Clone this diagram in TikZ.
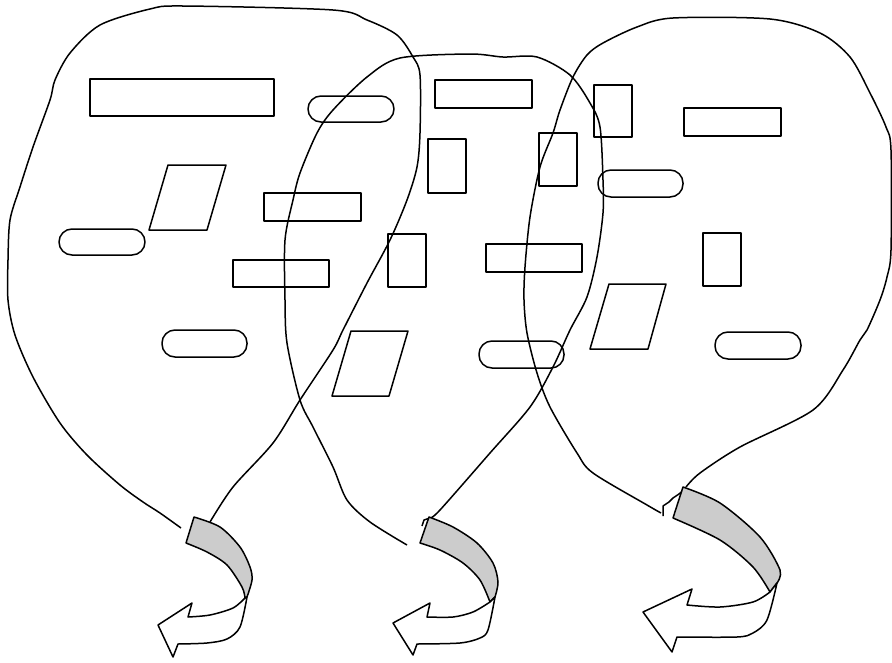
\documentclass[tikz,border=0pt]{standalone}
\begin{document}
\begin{tikzpicture}[x=1pt,y=-1pt,line join=round,
  box/.style={draw,line width=1.5pt,rectangle,inner sep=0pt},
  pill/.style={box,rounded corners=13pt},
  outline/.style={line width=1.5pt},
  back/.style={draw,line width=1.5pt,fill=black!20},
  front/.style={draw,line width=1.5pt,fill=white}]
\useasboundingbox (0,0) rectangle (892,662);

% balloons
\draw[outline] plot[smooth,tension=0.5] coordinates {(181,528) (160,513) (143,502) (120,485) (87,455) (60,423) (33,377) (15,335) (8,300) (8,260) (10,220) (20,187) (33,147) (50,100) (55,80) (70,53) (100,25) (150,9) (183,6) (333,10) (367,20) (397,35) (413,57) (420,75) (420,133) (417,167) (407,200) (390,240) (367,283) (343,330) (333,350) (300,400) (273,443) (233,487) (210,522)};
\draw[outline] plot[smooth,tension=0.5] coordinates {(407,545) (370,522) (347,500) (333,467) (313,427) (300,400) (287,343) (285,300) (285,240) (293,200) (300,173) (317,133) (333,110) (367,77) (400,58) (470,54) (503,57) (537,57) (570,75) (590,103) (600,127) (603,180) (603,213) (597,257) (587,297) (570,330) (553,367) (530,407) (490,453) (440,510) (430,518)};
\draw[outline] (430,518) -- (424,520) -- (422,526);
\draw[outline] plot[smooth,tension=0.5] coordinates {(661,513) (647,505) (593,473) (577,453) (550,407) (537,373) (527,333) (524,300) (525,267) (530,217) (540,167) (553,133) (560,110) (573,77) (587,55) (603,43) (637,27) (673,18) (770,19) (820,33) (850,57) (870,93) (886,127) (891,150) (891,250) (887,277) (880,300) (867,330) (860,340) (843,370) (813,410) (740,447) (700,473) (686,487)};
\draw[outline] (663,516) -- (663,506) -- (669,502) -- (673,498) -- (679,494) -- (685,489);

% left balloon contents
\node[box,minimum width=184pt,minimum height=37pt] (r1) at (182,97.5) {};
\node[pill,minimum width=86pt,minimum height=26pt] (s1) at (351,109) {};
\draw[line width=1.5pt] (168,165) -- (226,165) -- (207,230) -- (149,230) -- cycle;
\node[pill,minimum width=86pt,minimum height=26pt] (s2) at (102,242) {};
\node[box,minimum width=97pt,minimum height=28pt] (r2) at (312.5,207) {};
\node[box,minimum width=96pt,minimum height=27pt] (r3) at (281,273.5) {};
\node[pill,minimum width=85pt,minimum height=27pt] (s3) at (204.5,343.5) {};

% middle balloon contents
\node[box,minimum width=38pt,minimum height=53pt] (r4) at (407,260.5) {};
\draw[line width=1.5pt] (351,331) -- (408,331) -- (389,396) -- (332,396) -- cycle;
\node[box,minimum width=97pt,minimum height=28pt] (r5) at (483.5,94) {};
\node[box,minimum width=38pt,minimum height=54pt] (r6) at (447,166) {};
\node[box,minimum width=38pt,minimum height=53pt] (r7) at (558,159.5) {};
\node[box,minimum width=96pt,minimum height=28pt] (r8) at (534,258) {};
\node[pill,minimum width=85pt,minimum height=27pt] (s5) at (521.5,354.5) {};

% right balloon contents
\node[box,minimum width=38pt,minimum height=52pt] (r9) at (613,111) {};
\node[box,minimum width=97pt,minimum height=28pt] (r10) at (732.5,122) {};
\node[pill,minimum width=85pt,minimum height=27pt] (s4) at (640.5,183.5) {};
\node[box,minimum width=38pt,minimum height=53pt] (r11) at (722,259.5) {};
\draw[line width=1.5pt] (609,284) -- (666,284) -- (648,349) -- (590,349) -- cycle;
\node[pill,minimum width=86pt,minimum height=27pt] (s6) at (758,345.5) {};

% arrow 1
\path[back] plot[smooth] coordinates {(194,517) (220,527) (240,547) (250,567) (252,580) (247,597)}
  -- plot[smooth] coordinates {(245,598) (242,587) (227,565) (207,552) (186,543)} -- cycle;
\path[front] plot[smooth] coordinates {(247,597) (240,627) (227,639) (207,643) (178,644)}
  -- (173,657) -- (158,625) -- (192,603) -- (188,617)
  -- plot[smooth] coordinates {(188,617) (210,615) (233,608) (245,598)} -- cycle;

% arrow 2
\path[back] plot[smooth] coordinates {(429,517) (453,527) (477,543) (493,563) (498,582) (495,597)}
  -- plot[smooth] coordinates {(490,602) (480,580) (463,563) (440,550) (420,543)} -- cycle;
\path[front] plot[smooth] coordinates {(495,597) (488,630) (480,638) (460,643) (417,644)}
  -- (413,655) -- (393,623) -- (430,603) -- (427,617)
  -- plot[smooth] coordinates {(427,617) (453,617) (473,612) (490,602)} -- cycle;

% arrow 3
\path[back] plot[smooth] coordinates {(683,487) (720,503) (760,537) (780,570) (777,583)}
  -- plot[smooth] coordinates {(770,592) (753,567) (720,540) (673,518)} -- cycle;
\path[front] plot[smooth] coordinates {(777,583) (767,620) (753,633) (737,637) (677,637)}
  -- (672,652) -- (643,612) -- (692,589) -- (687,605)
  -- plot[smooth] coordinates {(687,605) (720,607) (753,602) (770,592)} -- cycle;
\end{tikzpicture}
\end{document}
